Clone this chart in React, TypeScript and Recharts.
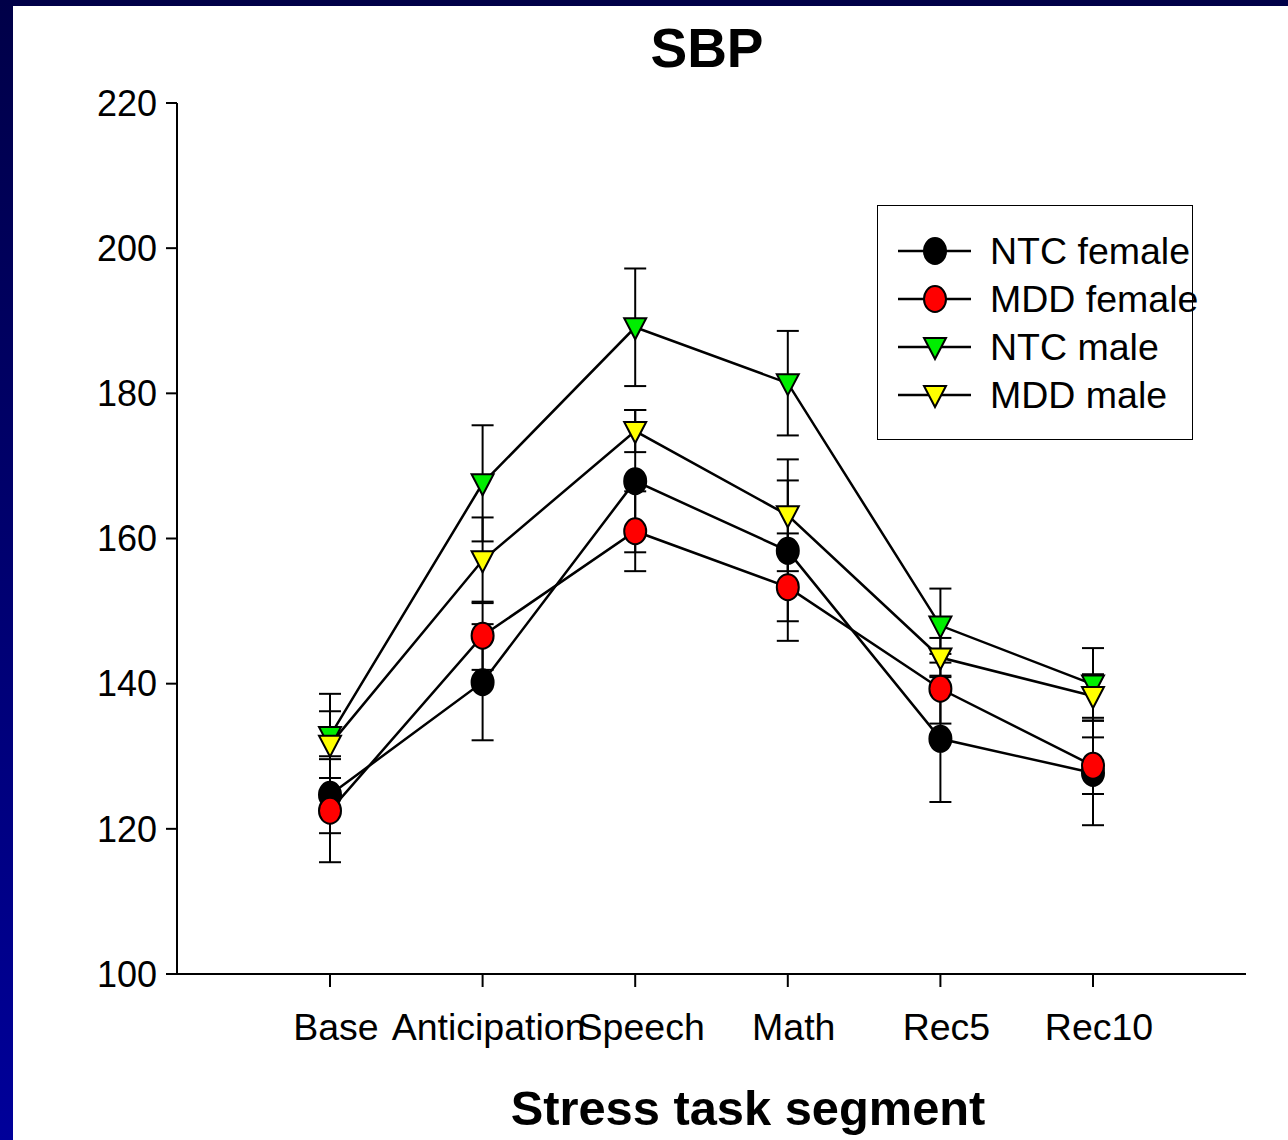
import React from 'react';
import { LineChart, Line, XAxis, YAxis, ErrorBar, Legend } from 'recharts';

const segments = ['Base', 'Anticipation', 'Speech', 'Math', 'Rec5', 'Rec10'];
const yTicks = [100, 120, 140, 160, 180, 200, 220];

const ntcFemale = [124.7, 140.2, 167.9, 158.3, 132.4, 127.7];
const ntcFemaleErr = [5.3, 8.0, 9.8, 9.7, 8.7, 7.2];
const mddFemale = [122.5, 146.6, 161.0, 153.3, 139.3, 128.7];
const mddFemaleErr = [7.1, 4.7, 5.5, 7.4, 4.8, 3.9];
const ntcMale = [132.8, 167.6, 189.1, 181.4, 148.0, 139.9];
const ntcMaleErr = [5.8, 8.0, 8.1, 7.2, 5.1, 5.0];
const mddMale = [131.6, 157.0, 174.8, 163.2, 143.6, 138.3];
const mddMaleErr = [4.6, 5.9, 2.9, 7.7, 2.7, 3.0];

const seriesNames = ['NTC female', 'MDD female', 'NTC male', 'MDD male'];
const seriesColors = ['#000000', '#ff0000', '#00ee00', '#ffff00'];
const seriesShapes = ['circle', 'circle', 'triangle', 'triangle'];

const data = segments.map((s, i) => ({
  segment: s,
  ntcF: ntcFemale[i],
  ntcFErr: ntcFemaleErr[i],
  mddF: mddFemale[i],
  mddFErr: mddFemaleErr[i],
  ntcM: ntcMale[i],
  ntcMErr: ntcMaleErr[i],
  mddM: mddMale[i],
  mddMErr: mddMaleErr[i],
}));

const FONT = '"Liberation Sans", Arial, Helvetica, sans-serif';

function Marker({ shape, fill, cx, cy }: { shape: string; fill: string; cx: number; cy: number }) {
  if (shape === 'circle') {
    return <ellipse cx={cx} cy={cy} rx={11} ry={13} fill={fill} stroke="#000" strokeWidth={2} />;
  }
  return (
    <polygon
      points={`${cx - 11},${cy - 9} ${cx + 11},${cy - 9} ${cx},${cy + 12}`}
      fill={fill}
      stroke="#000"
      strokeWidth={2}
      strokeLinejoin="miter"
    />
  );
}

const makeDot = (idx: number) => (props: any) => {
  const { cx, cy, index } = props;
  if (cx == null || cy == null) return <g key={`d${idx}-${index}`} />;
  return (
    <g key={`d${idx}-${index}`}>
      <Marker shape={seriesShapes[idx]} fill={seriesColors[idx]} cx={cx} cy={cy} />
    </g>
  );
};

const LegendContent = () => (
  <div
    style={{
      position: 'relative',
      width: 316,
      height: 235,
      border: '1.5px solid #000',
      boxSizing: 'border-box',
      background: '#fff',
      fontFamily: FONT,
    }}
  >
    {seriesNames.map((name, i) => (
      <div key={name} style={{ position: 'absolute', left: 0, top: 21 + i * 48, height: 48, width: 400 }}>
        <svg width={100} height={48} style={{ position: 'absolute', left: 0, top: 0, overflow: 'visible' }}>
          <line x1={20} x2={93} y1={24} y2={24} stroke="#000" strokeWidth={2.5} />
          <Marker shape={seriesShapes[i]} fill={seriesColors[i]} cx={57} cy={24} />
        </svg>
        <span
          style={{
            position: 'absolute',
            left: 112,
            top: 0,
            lineHeight: '48px',
            fontSize: 37.5,
            whiteSpace: 'nowrap',
            color: '#000',
          }}
        >
          {name}
        </span>
      </div>
    ))}
  </div>
);

const keys = ['ntcF', 'mddF', 'ntcM', 'mddM'];

export default function App() {
  return (
    <div
      style={{
        position: 'absolute',
        left: 0,
        top: 0,
        width: 1288,
        height: 1140,
        background: 'linear-gradient(to bottom, #000048 0%, #000070 50%, #00009a 100%)',
        overflow: 'hidden',
      }}
    >
      <div style={{ position: 'absolute', left: 13, top: 6, width: 1275, height: 1134, background: '#fff' }} />
      <div style={{ position: 'absolute', left: 0, top: 0 }}>
        <LineChart
          width={1288}
          height={1140}
          data={data}
          margin={{ top: 103, right: 42, bottom: 106, left: 97 }}
        >
          <XAxis
            dataKey="segment"
            scale="point"
            padding={{ left: 153, right: 153 }}
            height={60}
            axisLine={{ stroke: '#000', strokeWidth: 2 }}
            tickLine={{ stroke: '#000', strokeWidth: 2 }}
            tickSize={13}
            tickMargin={26}
            interval={0}
            tick={{ fontSize: 37.5, fill: '#000', fontFamily: FONT, dx: 6 } as any}
          />
          <YAxis
            type="number"
            domain={[100, 220]}
            ticks={yTicks}
            width={80}
            axisLine={{ stroke: '#000', strokeWidth: 2 }}
            tickLine={{ stroke: '#000', strokeWidth: 2 }}
            tickSize={11}
            tickMargin={9}
            interval={0}
            tick={{ fontSize: 36, fill: '#000', fontFamily: FONT }}
          />
          <Legend
            layout="vertical"
            align="center"
            verticalAlign="middle"
            content={LegendContent}
            wrapperStyle={{ position: 'absolute', left: 877, top: 205, width: 316, height: 235 }}
          />
          {keys.map((k, i) => (
            <Line
              key={k}
              type="linear"
              dataKey={k}
              name={seriesNames[i]}
              stroke="#000"
              strokeWidth={2.5}
              isAnimationActive={false}
              dot={makeDot(i)}
              activeDot={false}
            >
              <ErrorBar dataKey={`${k}Err`} width={11} stroke="#000" strokeWidth={2} direction="y" />
            </Line>
          ))}
        </LineChart>
      </div>
      <svg
        width={1288}
        height={1140}
        style={{ position: 'absolute', left: 0, top: 0, pointerEvents: 'none' }}
      >
        <text x={707} y={67} textAnchor="middle" fontSize={55} fontWeight="bold" fontFamily={FONT} fill="#000">
          SBP
        </text>
        <text x={748} y={1125} textAnchor="middle" fontSize={48.8} fontWeight="bold" fontFamily={FONT} fill="#000">
          Stress task segment
        </text>
      </svg>
    </div>
  );
}
